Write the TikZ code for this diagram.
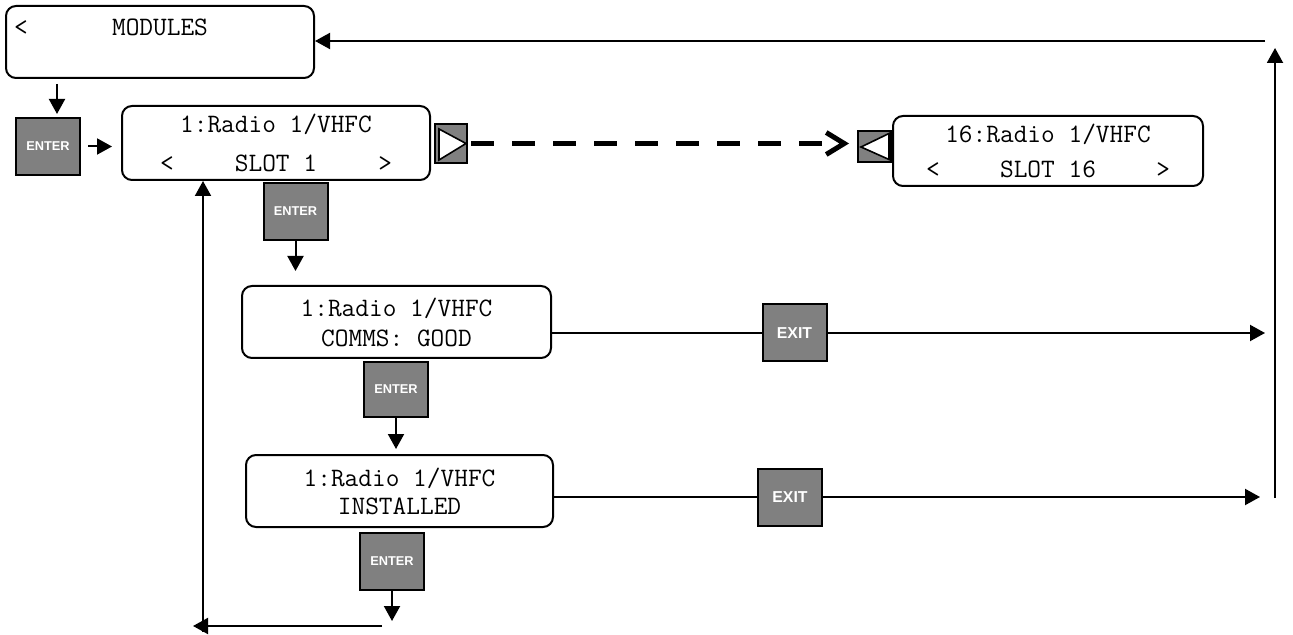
\documentclass[tikz,border=0pt]{standalone}
\usepackage{fontspec}
\usepackage{tikz}
\usetikzlibrary{arrows.meta, positioning, calc}
\newfontfamily\keyfont{Liberation Sans}
\definecolor{keygray}{RGB}{128,128,128}

\begin{document}
\begin{tikzpicture}[
  x=0.5pt, y=-0.5pt,
  lcd/.style={draw, line width=1pt, rounded corners=5pt, inner sep=0pt,
              align=center, font=\fontsize{13.3}{15}\selectfont\ttfamily},
  key/.style={draw, line width=1pt, fill=keygray, text=white, inner sep=0pt,
              minimum width=32pt, minimum height=28.5pt,
              font=\fontsize{6.4}{8}\selectfont\keyfont\bfseries},
  xkey/.style={key, font=\fontsize{7.9}{9}\selectfont\keyfont\bfseries},
  nav/.style={draw, line width=1pt, fill=keygray, inner sep=0pt},
  tri/.style={draw, line width=0.8pt, fill=white, line join=miter},
  ln/.style={line width=1pt},
  arr/.style={ln, -{Triangle[length=7.5pt,width=8pt]}},
  dasharr/.style={-{Straight Barb[length=9pt,width=11pt]}, line width=2.5pt,
                  dash pattern=on 11.5pt off 9pt}
]
  \useasboundingbox (0,0) rectangle (1293,635);

  % screens
  \node[lcd, minimum width=154pt, minimum height=36pt, text width=146pt] (modules) at (160,42)
       {<\hfill MODULES\hfill\phantom{<}\\ \mbox{}};
  \node[lcd, minimum width=154pt, minimum height=37pt] (slot1) at (276,143)
       {1:Radio 1/VHFC\\[4.5pt]\makebox[116pt]{<\hfill SLOT 1\hfill>}};
  \node[lcd, minimum width=155pt, minimum height=35pt] (slot16) at (1048,151)
       {16:Radio 1/VHFC\\[2.5pt]\makebox[122pt]{<\hfill SLOT 16\hfill>}};
  \node[lcd, minimum width=154.5pt, minimum height=36pt] (comms) at (396.5,322)
       {1:Radio 1/VHFC\\COMMS: GOOD};
  \node[lcd, minimum width=153.5pt, minimum height=36pt] (inst) at (399.5,491)
       {1:Radio 1/VHFC\\[-1pt]INSTALLED};

  % keys
  \node[key]  (enter1) at (48,146.5)   {ENTER};
  \node[key]  (enter2) at (295.5,211.5) {ENTER};
  \node[key, minimum height=27.5pt] (enter3) at (396,389.5) {ENTER};
  \node[key]  (enter4) at (392,561)    {ENTER};
  \node[xkey] (exit1)  at (794.5,333)  {EXIT};
  \node[xkey] (exit2)  at (790,497)    {EXIT};

  % scroll buttons
  \node[nav, minimum width=16pt, minimum height=19.5pt] (navR) at (451,143.5) {};
  \draw[tri] ($(navR.north west)+(5,6)$) -- ($(navR.east)+(-2,0)$)
             -- ($(navR.south west)+(5,-4)$) -- cycle;
  \node[nav, minimum width=16.5pt, minimum height=15.5pt] (navL) at (874.5,147) {};
  \draw[tri] ($(navL.north east)+(-3,3)$) -- ($(navL.west)+(4,0)$)
             -- ($(navL.south east)+(-3,-4)$) -- cycle;

  % free ends
  \coordinate (c1) at (1265,333);
  \coordinate (c2) at (1260,497);
  \coordinate (rb) at (1275,498);
  \coordinate (rt) at (1275,48);
  \coordinate (tr) at (1265,41);
  \coordinate (e4) at (392,621);
  \coordinate (bl) at (382,626);
  \coordinate (br) at (193,626);
  \coordinate (lb) at (203,632);

  % connectors
  \draw[arr, shorten <=2.5pt, shorten >=1.5pt]
    ([xshift=4.5pt]enter1.north |- modules.south) -- ([xshift=4.5pt]enter1.north);
  \draw[arr, shorten <=3.5pt, shorten >=4.5pt] (enter1.east) -- (enter1.east -| slot1.west);
  \draw[arr, shorten >=7pt] (enter2.south) -- (enter2.south |- comms.north);
  \draw[arr, shorten >=2.5pt] (enter3.south) -- (enter3.south |- inst.north);
  \draw[arr] (enter4.south) -- (e4);
  \draw[dasharr, shorten <=1.5pt, shorten >=4pt] (navR.east) -- (navR.east -| navL.west);
  \draw[ln] (comms.east |- exit1.west) -- (exit1.west);
  \draw[arr] (exit1.east) -- (c1);
  \draw[ln] (inst.east |- exit2.west) -- (exit2.west);
  \draw[arr] (exit2.east) -- (c2);
  \draw[arr] (rb) -- (rt);
  \draw[arr] (tr) -- (tr -| modules.east);
  \draw[arr] (bl) -- (br);
  \draw[arr] (lb) -- (lb |- slot1.south);
\end{tikzpicture}
\end{document}
